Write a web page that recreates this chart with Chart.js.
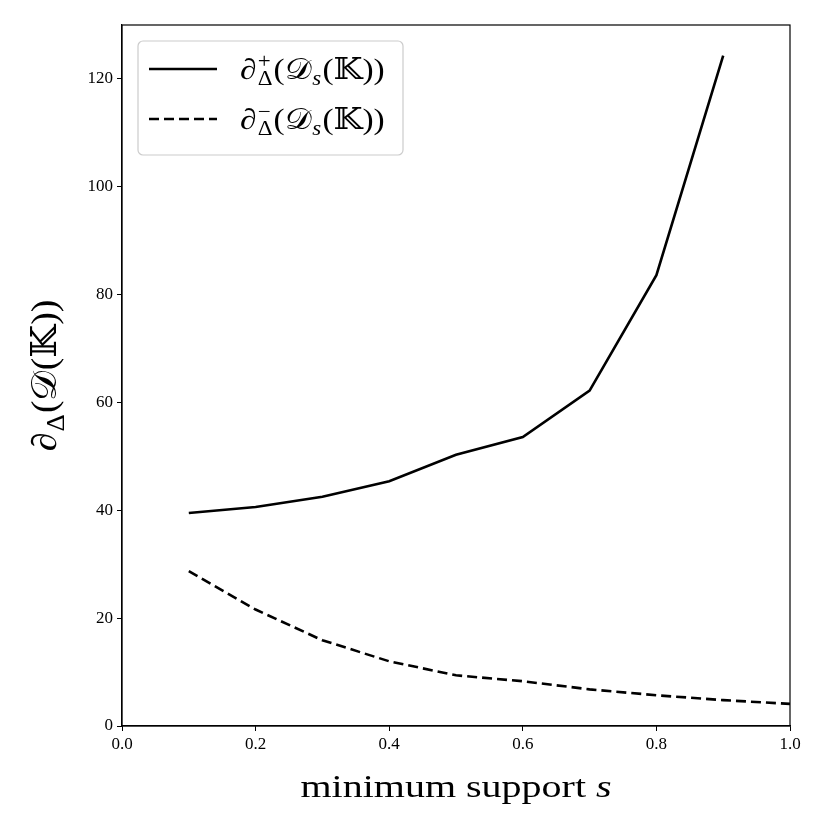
<!DOCTYPE html>
<html>
<head>
<meta charset="utf-8">
<script src="https://cdn.jsdelivr.net/npm/chart.js@4"></script>
<style>
  html, body { margin: 0; padding: 0; background: #fff; }
  #wrap { width: 830px; height: 830px; }
</style>
</head>
<body>
<div id="wrap"><canvas id="grafico"></canvas></div>
<script>
// valores
const suportes = [0.1, 0.2, 0.3, 0.4, 0.5, 0.6, 0.7, 0.8, 0.9, 1.0];
const bordaPositiva = [39.5, 40.6, 42.5, 45.4, 50.3, 53.6, 62.2, 83.6, 124.3];
const bordaNegativa = [28.7, 21.6, 15.9, 12.0, 9.4, 8.3, 6.8, 5.7, 4.8, 4.1];
const ticksY = [0, 20, 40, 60, 80, 100, 120];
const ticksX = [0.0, 0.2, 0.4, 0.6, 0.8, 1.0];

const serif = 'Liberation Serif, DejaVu Serif, serif';
const D = '\uD835\uDC9F';   // 𝒟
const K = '\uD835\uDD42';   // 𝕂

const pares = (ys) => ys.map((y, i) => ({ x: suportes[i], y: y }));

// mede / desenha texto tipo latex: base + sobrescrito/subscrito
function textoRico(ctx, partes, x, y, tam, desenhar = true) {
    let cx = x;
    ctx.textBaseline = 'alphabetic';
    ctx.textAlign = 'left';
    partes.forEach(p => {
        ctx.font = (p.italico ? 'italic ' : '') + tam + 'px ' + serif;
        if (desenhar) ctx.fillText(p.t, cx, y);
        let w = ctx.measureText(p.t).width;
        let w2 = 0;
        if (p.sup || p.sub) {
            const pt = Math.round(tam * 0.7);
            if (p.sup) {
                ctx.font = pt + 'px ' + serif;
                if (desenhar) ctx.fillText(p.sup, cx + w + 1, y - tam * 0.38);
                w2 = Math.max(w2, ctx.measureText(p.sup).width);
            }
            if (p.sub) {
                ctx.font = (p.subItalico ? 'italic ' : '') + pt + 'px ' + serif;
                if (desenhar) ctx.fillText(p.sub, cx + w + 1, y + tam * 0.22);
                w2 = Math.max(w2, ctx.measureText(p.sub).width);
            }
            w += w2 + 2;
        }
        cx += w;
    });
    return cx - x;
}

// texto esticado na horizontal (a fonte do original é mais larga)
function textoLargo(ctx, partes, x, y, tam, sx, centrar) {
    const w = textoRico(ctx, partes, 0, 0, tam, false) * sx;
    ctx.save();
    ctx.translate(centrar ? x - w / 2 : x, y);
    ctx.scale(sx, 1);
    textoRico(ctx, partes, 0, 0, tam);
    ctx.restore();
}

const rotuloSerie = (sinal) => [
    { t: '\u2202', sup: sinal, sub: '\u0394' },
    { t: '(' + D, sub: 's', subItalico: true },
    { t: '(' + K + '))' },
];

const extrasLatex = {
    id: 'extrasLatex',
    afterDraw(chart) {
        const ctx = chart.ctx;
        const a = chart.chartArea;
        ctx.save();
        // moldura completa
        ctx.strokeStyle = '#000';
        ctx.lineWidth = 1.2;
        ctx.strokeRect(a.left, a.top, a.right - a.left, a.bottom - a.top);

        // caixa da legenda
        const bx = a.left + 16, by = a.top + 16, bw = 265, bh = 114;
        ctx.fillStyle = 'rgba(255,255,255,0.8)';
        ctx.strokeStyle = '#cccccc';
        ctx.lineWidth = 1.2;
        ctx.beginPath();
        ctx.roundRect(bx, by, bw, bh, 5);
        ctx.fill();
        ctx.stroke();

        const itens = [
            { dash: [], y: by + 28, sinal: '+' },
            { dash: [10, 5], y: by + 78, sinal: '\u2212' },
        ];
        itens.forEach(it => {
            ctx.strokeStyle = '#000';
            ctx.lineWidth = 2.6;
            ctx.setLineDash(it.dash);
            ctx.beginPath();
            ctx.moveTo(bx + 11, it.y);
            ctx.lineTo(bx + 79, it.y);
            ctx.stroke();
            ctx.setLineDash([]);
            ctx.fillStyle = '#000';
            textoLargo(ctx, rotuloSerie(it.sinal), bx + 102, it.y + 10, 29, 1.15, false);
        });

        // título do eixo x
        ctx.fillStyle = '#000';
        textoLargo(ctx, [{ t: 'minimum support ' }, { t: 's', italico: true }],
            (a.left + a.right) / 2, 797, 32, 1.25, true);

        // título do eixo y (rotacionado)
        ctx.translate(56, (a.top + a.bottom) / 2);
        ctx.rotate(-Math.PI / 2);
        textoLargo(ctx, [{ t: '\u2202', sub: '\u0394' }, { t: '(' + D + '(' + K + '))' }],
            0, 0, 35, 1.08, true);
        ctx.restore();
    }
};

const dados = {
    datasets: [
        {
            label: '\u2202\u0394+(' + D + 's(' + K + '))',
            data: pares(bordaPositiva),
            borderColor: '#000',
            borderWidth: 2.6,
            pointRadius: 0,
            fill: false,
            tension: 0,
        },
        {
            label: '\u2202\u0394\u2212(' + D + 's(' + K + '))',
            data: pares(bordaNegativa),
            borderColor: '#000',
            borderWidth: 2.6,
            borderDash: [10, 5],
            pointRadius: 0,
            fill: false,
            tension: 0,
        },
    ],
};

const config = {
    type: 'line',
    data: dados,
    options: {
        responsive: true,
        maintainAspectRatio: false,
        animation: false,
        layout: { padding: { left: 0, right: 40, top: 25, bottom: 0 } },
        plugins: {
            legend: { display: false },
            tooltip: { enabled: false },
        },
        scales: {
            x: {
                type: 'linear',
                min: 0,
                max: 1,
                afterBuildTicks: (s) => { s.ticks = ticksX.map(v => ({ value: v })); },
                afterFit: (s) => { s.height = 104; },
                grid: { drawOnChartArea: false, drawTicks: true, tickLength: 5, color: '#000' },
                border: { display: true, color: '#000', width: 1.2 },
                ticks: {
                    color: '#000',
                    padding: 3,
                    maxRotation: 0,
                    font: { family: serif, size: 17 },
                    callback: (v) => Number(v).toFixed(1),
                },
            },
            y: {
                min: 0,
                max: 130,
                afterBuildTicks: (s) => { s.ticks = ticksY.map(v => ({ value: v })); },
                afterFit: (s) => { s.width = 122; },
                grid: { drawOnChartArea: false, drawTicks: true, tickLength: 5, color: '#000' },
                border: { display: true, color: '#000', width: 1.2 },
                ticks: {
                    color: '#000',
                    padding: 4,
                    font: { family: serif, size: 17 },
                },
            },
        },
    },
    plugins: [extrasLatex],
};

new Chart(document.getElementById('grafico').getContext('2d'), config);
</script>
</body>
</html>
